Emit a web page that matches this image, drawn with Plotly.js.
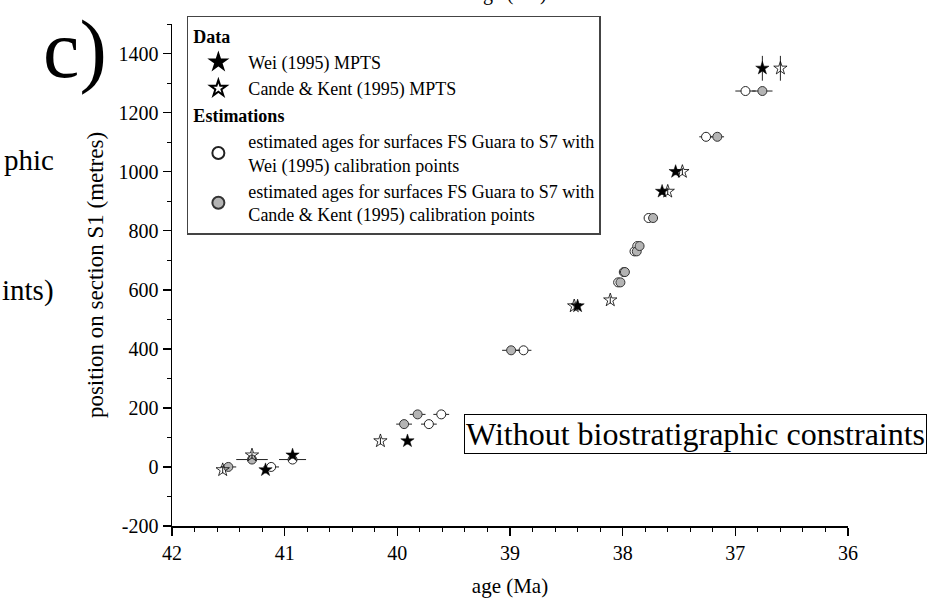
<!DOCTYPE html>
<html>
<head>
<meta charset="utf-8">
<script src="https://cdn.plot.ly/plotly-3.0.1.min.js"></script>
<style>html,body{margin:0;padding:0;background:#fff;}#chart{width:933px;height:600px;}</style>
</head>
<body>
<div id="chart"></div>
<script>
// Wei (1995) MPTS data (filled stars)
const weiAge = [41.17, 40.93, 39.91, 38.40, 37.65, 37.53, 36.76];
const weiPos = [-10, 40, 88, 545, 933, 1000, 1350];
const weiErr = [12, 12, 12, 12, 12, 12, 42];

// Cande & Kent (1995) MPTS data (open stars)
const ckAge = [41.55, 41.29, 40.15, 38.43, 38.11, 37.60, 37.47, 36.60];
const ckPos = [-10, 40, 88, 545, 565, 933, 1000, 1350];
const ckErr = [12, 12, 12, 12, 12, 12, 12, 42];

// Estimated ages with Wei (1995) calibration points (white circles)
const estWeiAge = [41.12, 40.93, 39.72, 39.61, 38.88, 38.04, 37.99, 37.895, 37.87, 37.77, 37.26, 36.91];
const estWeiPos = [0, 25, 145, 178, 395, 625, 660, 730, 748, 843, 1118, 1273];
const estWeiErr = [0.07, 0.12, 0.07, 0.07, 0.07, 0.03, 0.03, 0.03, 0.03, 0.03, 0.06, 0.09];

// Estimated ages with Cande & Kent (1995) calibration points (grey circles)
const estCkAge = [41.50, 41.29, 39.94, 39.82, 38.99, 38.02, 37.98, 37.875, 37.85, 37.73, 37.16, 36.76];
const estCkPos = [0, 25, 145, 178, 395, 625, 660, 730, 748, 843, 1118, 1273];
const estCkErr = [0.07, 0.14, 0.07, 0.07, 0.08, 0.03, 0.03, 0.03, 0.03, 0.03, 0.06, 0.09];

// Tick labels
const xTickVals = [42, 41, 40, 39, 38, 37, 36];
const xTickText = ['42', '41', '40', '39', '38', '37', '36'];
const yTickVals = [-200, 0, 200, 400, 600, 800, 1000, 1200, 1400];
const yTickText = ['-200', '0', '200', '400', '600', '800', '1000', '1200', '1400'];

const serif = 'Liberation Serif, Times New Roman, serif';

const traces = [
  {
    x: estWeiAge, y: estWeiPos, type: 'scatter', mode: 'markers',
    name: 'estimated ages for surfaces FS Guara to S7 with<br>Wei (1995) calibration points',
    legendgroup: 'est', legendgrouptitle: {text: '<b>Estimations</b>'}, legendrank: 3,
    marker: {symbol: 'circle', size: 9, color: '#ffffff', line: {color: '#222', width: 1}},
    error_x: {type: 'data', array: estWeiErr, visible: true, color: '#222', thickness: 1, width: 0}
  },
  {
    x: estCkAge, y: estCkPos, type: 'scatter', mode: 'markers',
    name: 'estimated ages for surfaces FS Guara to S7 with<br>Cande &amp; Kent (1995) calibration points',
    legendgroup: 'est', legendrank: 4,
    marker: {symbol: 'circle', size: 9, color: '#b4b4b4', line: {color: '#333', width: 1}},
    error_x: {type: 'data', array: estCkErr, visible: true, color: '#222', thickness: 1, width: 0}
  },
  {
    x: weiAge, y: weiPos, type: 'scatter', mode: 'markers',
    name: 'Wei (1995) MPTS',
    legendgroup: 'data', legendgrouptitle: {text: '<b>Data</b>'}, legendrank: 1,
    marker: {symbol: 'star', size: 10, color: '#000', line: {color: '#000', width: 0.5}},
    error_y: {type: 'data', array: weiErr, visible: true, color: '#222', thickness: 1, width: 0}
  },
  {
    x: ckAge, y: ckPos, type: 'scatter', mode: 'markers',
    name: 'Cande &amp; Kent (1995) MPTS',
    legendgroup: 'data', legendrank: 2,
    marker: {symbol: 'star-open', size: 10, color: '#000', line: {color: '#000', width: 0.8}},
    error_y: {type: 'data', array: ckErr, visible: true, color: '#222', thickness: 1, width: 0}
  }
];

const axisCommon = {
  showline: true, linecolor: '#000', linewidth: 1.5, mirror: false,
  showgrid: false, zeroline: false,
  ticks: 'outside', ticklen: 8, tickwidth: 1.5, tickcolor: '#000',
  tickfont: {family: serif, size: 20, color: '#000'}
};

const layout = {
  width: 933, height: 600,
  margin: {l: 172, r: 85, t: 24, b: 74},
  paper_bgcolor: '#fff', plot_bgcolor: '#fff',
  font: {family: serif, color: '#000'},
  showlegend: true,
  legend: {
    x: 0.022, y: 1.016, xanchor: 'left', yanchor: 'top',
    bgcolor: '#fff', bordercolor: '#444', borderwidth: 1.5,
    font: {family: serif, size: 18, color: '#000'},
    grouptitlefont: {family: serif, size: 18, color: '#000'},
    traceorder: 'grouped', tracegroupgap: 0, itemsizing: 'constant', itemwidth: 50
  },
  xaxis: Object.assign({}, axisCommon, {
    range: [42, 36], tickmode: 'array', tickvals: xTickVals, ticktext: xTickText,
    minor: {dtick: 0.2, tick0: 36, ticks: 'outside', ticklen: 4, tickwidth: 1, tickcolor: '#000'},
    title: {text: 'age (Ma)', font: {family: serif, size: 21, color: '#000'}, standoff: 16}
  }),
  yaxis: Object.assign({}, axisCommon, {
    range: [-200, 1500], tickmode: 'array', tickvals: yTickVals, ticktext: yTickText,
    minor: {dtick: 100, tick0: 0, ticks: 'outside', ticklen: 4, tickwidth: 1, tickcolor: '#000'},
    title: {text: 'position on section S1 (metres)', font: {family: serif, size: 23, color: '#000'}, standoff: 8}
  }),
  annotations: [
    {text: 'Without biostratigraphic constraints', xref: 'paper', yref: 'paper', x: 0.774, y: 0.183,
     xanchor: 'center', yanchor: 'middle', showarrow: false, font: {family: serif, size: 32, color: '#000'},
     bordercolor: '#000', borderwidth: 1, borderpad: 1, bgcolor: '#fff'},
    {text: 'c)', xref: 'paper', yref: 'paper', x: -0.143, y: 1.044, xanchor: 'center', yanchor: 'top',
     showarrow: false, font: {family: serif, size: 82, color: '#000'}},
    {text: 'phic', xref: 'paper', yref: 'paper', x: -0.1716, y: 0.729, xanchor: 'right', yanchor: 'middle',
     showarrow: false, font: {family: serif, size: 29, color: '#000'}},
    {text: 'ints)', xref: 'paper', yref: 'paper', x: -0.1716, y: 0.47, xanchor: 'right', yanchor: 'middle',
     showarrow: false, font: {family: serif, size: 29, color: '#000'}},
    {text: 'age (Ma)', xref: 'paper', yref: 'paper', x: 0.5, y: 1.06, xanchor: 'center', yanchor: 'middle',
     showarrow: false, font: {family: serif, size: 20, color: '#000'}}
  ]
};

Plotly.newPlot('chart', traces, layout, {displayModeBar: false, staticPlot: true});
</script>
</body>
</html>
